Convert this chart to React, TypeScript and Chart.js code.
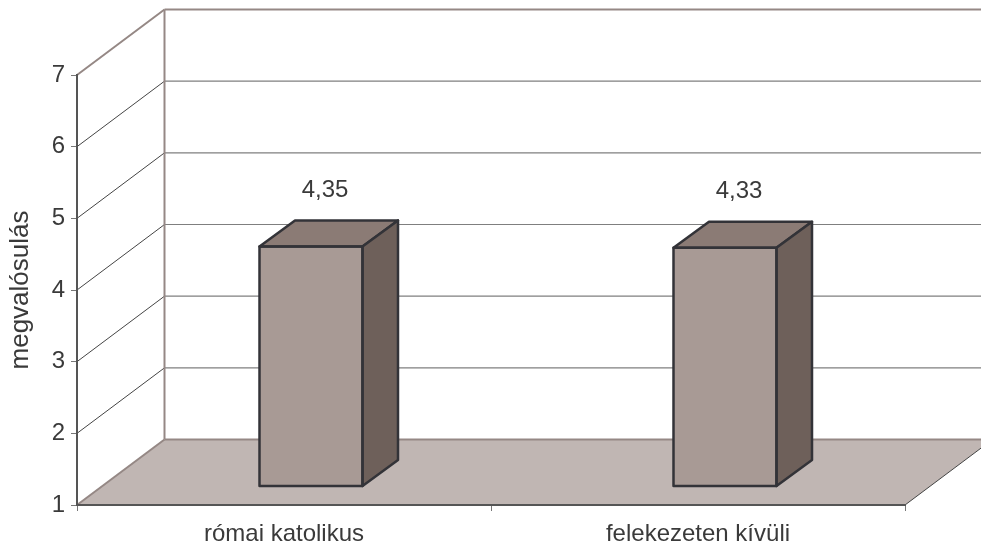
import React, { useEffect, useRef } from "react";
import { Chart, registerables } from "chart.js";

Chart.register(...registerables);

const categories = ["római katolikus", "felekezeten kívüli"];
const values = [4.35, 4.33];
const yTitle = "megvalósulás";
const valueLabels = ["4,35", "4,33"];

const FONT = '"Liberation Sans", Arial, sans-serif';
const TEXT = "#3A3A3A";
const WALL_DX = 87.5;
const WALL_DY = -65.5;
const BAR_DX = 27;
const BAR_DY = -18.5;
const TOP_DX = 35.5;
const TOP_DY = -26;

const poly = (ctx: CanvasRenderingContext2D, pts: number[][]) => {
  ctx.beginPath();
  pts.forEach(([x, y], i) => (i ? ctx.lineTo(x, y) : ctx.moveTo(x, y)));
};

const line = (ctx: CanvasRenderingContext2D, pts: number[][], color: string, w: number) => {
  poly(ctx, pts);
  ctx.strokeStyle = color;
  ctx.lineWidth = w;
  ctx.stroke();
};

const wallsPlugin = {
  id: "walls",
  beforeDraw(chart: any) {
    const { ctx, chartArea: a, scales } = chart;
    const W = chart.width;
    const y = scales.y;
    ctx.save();
    // floor
    poly(ctx, [
      [a.left, a.bottom],
      [a.right, a.bottom],
      [a.right + WALL_DX, a.bottom + WALL_DY],
      [a.left + WALL_DX, a.bottom + WALL_DY],
    ]);
    ctx.closePath();
    ctx.fillStyle = "#C0B6B3";
    ctx.fill();

    // gridlines on side wall and back wall
    y.ticks.forEach((t: any) => {
      const py = y.getPixelForValue(t.value);
      const by = py + WALL_DY;
      if (t.value === 1) return;
      const top = t.value === 7;
      line(ctx, [[a.left, py], [a.left + WALL_DX, by]], top ? "#958885" : "#444444", top ? 2 : 1);
      line(ctx, [[a.left + WALL_DX, by], [W, by]], top ? "#958885" : "#7F7F7F", top ? 2 : 1.2);
    });

    // floor edges
    line(ctx, [[a.left, a.bottom], [a.left + WALL_DX, a.bottom + WALL_DY]], "#958885", 2);
    line(ctx, [[a.left + WALL_DX, a.bottom + WALL_DY], [W, a.bottom + WALL_DY]], "#958885", 2);
    line(ctx, [[a.right, a.bottom], [a.right + WALL_DX, a.bottom + WALL_DY]], "#444444", 1);
    // back wall vertical
    line(ctx, [[a.left + WALL_DX, a.top + WALL_DY], [a.left + WALL_DX, a.bottom + WALL_DY]], "#958885", 2);
    ctx.restore();
  },
  beforeDatasetDraw(chart: any) {
    const { ctx } = chart;
    ctx.save();
    ctx.translate(BAR_DX, BAR_DY);
  },
  afterDatasetDraw(chart: any, args: any) {
    const { ctx } = chart;
    ctx.lineWidth = 2.5;
    ctx.lineJoin = "round";
    ctx.strokeStyle = "#333338";
    args.meta.data.forEach((el: any) => {
      const { x, y, base, width } = el.getProps(["x", "y", "base", "width"], true);
      const l = x - width / 2;
      const r = x + width / 2;
      const t = y;
      const b = base;
      poly(ctx, [[l, t], [l + TOP_DX, t + TOP_DY], [r + TOP_DX, t + TOP_DY], [r, t]]);
      ctx.closePath();
      ctx.fillStyle = "#8B7B75";
      ctx.fill();
      ctx.stroke();
      poly(ctx, [[r, t], [r + TOP_DX, t + TOP_DY], [r + TOP_DX, b + TOP_DY], [r, b]]);
      ctx.closePath();
      ctx.fillStyle = "#6E605A";
      ctx.fill();
      ctx.stroke();
      poly(ctx, [[l, t], [r, t], [r, b], [l, b]]);
      ctx.closePath();
      ctx.stroke();
    });
    ctx.restore();
  },
  afterDatasetsDraw(chart: any) {
    const { ctx } = chart;
    const meta = chart.getDatasetMeta(0);
    ctx.save();
    ctx.font = `24px ${FONT}`;
    ctx.fillStyle = TEXT;
    ctx.textAlign = "center";
    ctx.textBaseline = "middle";
    meta.data.forEach((el: any, i: number) => {
      const { x, y } = el.getProps(["x", "y"], true);
      ctx.fillText(valueLabels[i], x + BAR_DX + 14, y + BAR_DY - 56.5);
    });
    ctx.restore();
  },
};

export default function App() {
  const ref = useRef<HTMLCanvasElement>(null);
  useEffect(() => {
    if (!ref.current) return;
    const chart = new Chart(ref.current, {
      type: "bar",
      data: {
        labels: categories,
        datasets: [
          {
            data: values,
            base: 1,
            backgroundColor: "#A89A95",
            borderWidth: 0,
            barThickness: 103,
            clip: false,
          } as any,
        ],
      },
      options: {
        responsive: false,
        animation: false,
        layout: { padding: { top: 75, right: 76, left: 0, bottom: 0 } },
        plugins: { legend: { display: false }, tooltip: { enabled: false } },
        scales: {
          x: {
            grid: { drawOnChartArea: false, drawTicks: true, tickLength: 6, color: "#777777" },
            border: { color: "#555555", width: 2 },
            ticks: { color: TEXT, font: { family: FONT, size: 24 }, padding: 9, maxRotation: 0 },
            afterFit: (s: any) => {
              s.height = 41;
            },
          },
          y: {
            min: 1,
            max: 7,
            grid: { drawOnChartArea: false, drawTicks: true, tickLength: 6, color: "#777777" },
            border: { color: "#555555", width: 2 },
            ticks: { stepSize: 1, color: TEXT, font: { family: FONT, size: 24 }, padding: 6 },
            title: {
              display: true,
              text: yTitle,
              color: TEXT,
              font: { family: FONT, size: 26 },
              padding: { top: 5, bottom: 0 },
            },
            afterFit: (s: any) => {
              s.width = 77;
            },
          },
        },
      },
      plugins: [wallsPlugin],
    } as any);
    return () => chart.destroy();
  }, []);
  return (
    <canvas
      ref={ref}
      width={981}
      height={546}
      style={{ position: "absolute", left: 0, top: 0, display: "block" }}
    />
  );
}
